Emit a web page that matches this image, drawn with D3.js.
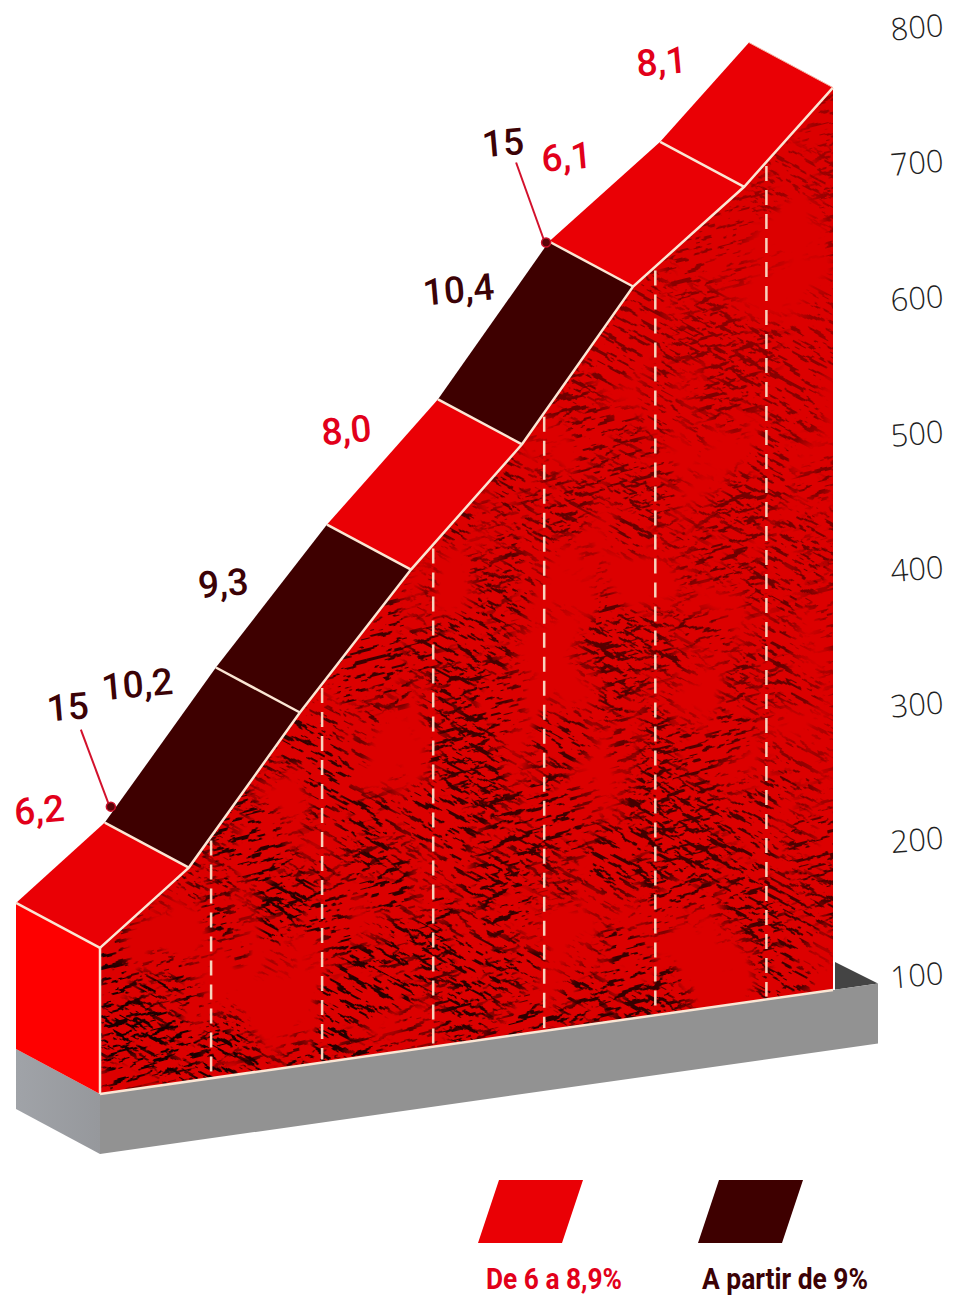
<!DOCTYPE html>
<html>
<head>
<meta charset="utf-8">
<script src="https://cdn.jsdelivr.net/npm/d3@7/dist/d3.min.js"></script>
<style>
html,body{margin:0;padding:0;background:#fff;}
svg{display:block;}
</style>
</head>
<body>
<div id="chart"></div>
<script>
// ---- data ----
const kmPoints   = [0, 0.8, 1.8, 2.8, 3.8, 4.8, 5.8, 6.6];
const altitudes  = [208, 258, 361, 455, 536, 641, 703, 767];
const gradients  = [6.2, 10.2, 9.3, 8.0, 10.4, 6.1, 8.1];
const kmMarks    = [1, 2, 3, 4, 5, 6];
const altTicks   = [100, 200, 300, 400, 500, 600, 700, 800];
const maxSlopes  = [{km: 0.8, alt: 258, value: 15}, {km: 4.8, alt: 641, value: 15}];
const legendText = ["De 6 a 8,9%", "A partir de 9%"];

// ---- layout ----
const W = 960, H = 1304;
const RED = "#ea0005", DARK = "#3e0000", CREAM = "#fbe6d4";
const depth = {x: -84, y: -45};
const labelOffsets = [[-20,-40],[-22,-48],[-47,0],[-35,-19],[-34,-18],[-37,-22],[-42,-18]];
const maxOffsets = [{dot:[6,-16], lab:[-36,-103], a:[-24,-93], b:[4,-18]}, {dot:[-3,1], lab:[-45,-86], a:[-33,-79], b:[-5,-1]}];

const x = d3.scaleLinear().domain([0, 6.6]).range([100, 833]);
const base = d3.scaleLinear().domain([0, 6.6]).range([1094, 990]);
const rise = d3.scaleLinear().domain([100, 800]).range([0, 947]);
const altAt = d3.scaleLinear().domain(kmPoints).range(altitudes);
const P = (km, alt) => [x(km), base(km) - rise(alt)];
const B = p => [p[0] + depth.x, p[1] + depth.y];
const poly = pts => "M" + pts.map(p => p.map(v => v.toFixed(1)).join(",")).join("L") + "Z";
const line = pts => "M" + pts.map(p => p.map(v => v.toFixed(1)).join(",")).join("L");
const fmt = v => (Number.isInteger(v) && v < 10 ? v.toFixed(1) : String(v)).replace(".", ",");
const gradColor = g => g >= 9 ? DARK : RED;

const svg = d3.select("#chart").append("svg").attr("width", W).attr("height", H).attr("viewBox", `0 0 ${W} ${H}`);

// ---- relief texture ----
const defs = svg.append("defs");
const grad = defs.append("linearGradient").attr("id","plinthL").attr("x1",0).attr("x2",1).attr("y1",0).attr("y2",0);
grad.append("stop").attr("offset",0).attr("stop-color","#a0a3a8");
grad.append("stop").attr("offset",1).attr("stop-color","#96989c");

function reliefFilter(id, seed, seedBig, freq){
  const f = defs.append("filter").attr("id",id).attr("x",0).attr("y",0).attr("width",1).attr("height",1)
    .attr("color-interpolation-filters","sRGB");
  f.append("feTurbulence").attr("type","fractalNoise").attr("baseFrequency",freq).attr("numOctaves",3).attr("seed",seed).attr("result","n");
  const dl = f.append("feDiffuseLighting").attr("in","n").attr("surfaceScale",11).attr("diffuseConstant",1.05).attr("lighting-color","#fff").attr("result","l");
  dl.append("feDistantLight").attr("azimuth",80).attr("elevation",58);
  f.append("feColorMatrix").attr("in","l").attr("type","matrix")
    .attr("values","0 0 0 0 0.09  0 0 0 0 0  0 0 0 0 0  -9 0 0 0 2.9").attr("result","mask");
  f.append("feTurbulence").attr("type","fractalNoise").attr("baseFrequency","0.012 0.009").attr("numOctaves",3).attr("seed",seedBig).attr("result","big");
  f.append("feColorMatrix").attr("in","big").attr("type","matrix")
    .attr("values","0 0 0 0 0  0 0 0 0 0  0 0 0 0 0  0 0 0 6 -2.5").attr("result","bigA");
  f.append("feComposite").attr("in","mask").attr("in2","bigA").attr("operator","in");
}
reliefFilter("reliefA", 11, 4, "0.05 0.12");
reliefFilter("reliefB", 23, 9, "0.05 0.13");

const density = defs.append("linearGradient").attr("id","densityGrad").attr("gradientUnits","userSpaceOnUse")
  .attr("x1",150).attr("y1",1050).attr("x2",800).attr("y2",250);
density.append("stop").attr("offset",0).attr("stop-color","#fff");
density.append("stop").attr("offset",0.45).attr("stop-color","#ccc");
density.append("stop").attr("offset",1).attr("stop-color","#555");
defs.append("mask").attr("id","density").attr("maskUnits","userSpaceOnUse").attr("x",0).attr("y",0).attr("width",W).attr("height",H)
  .append("rect").attr("width",W).attr("height",H).attr("fill","url(#densityGrad)");

// ---- plinth ----
const front = kmPoints.map((k,i) => P(k, altitudes[i]));
const f0 = front[0], fN = front[front.length-1];
const b0 = [x(0), base(0)], bN = [x(6.6), base(6.6)];
const plinthH = 60;
const cornerR = [878, base(6.6) - (878 - x(6.6)) * (base(0)-base(6.6))/(x(6.6)-x(0))];
const backL = B(b0);
svg.append("path").attr("d", poly([[bN[0], bN[1]-29], cornerR, bN])).attr("fill","#444444");
svg.append("path").attr("d", poly([backL, b0, [b0[0], b0[1]+plinthH], [backL[0], backL[1]+plinthH]])).attr("fill","url(#plinthL)");
svg.append("path").attr("d", poly([b0, cornerR, [cornerR[0], cornerR[1]+plinthH], [b0[0], b0[1]+plinthH]])).attr("fill","#929292");

// ---- left block ----
svg.append("path").attr("d", poly([B(f0), f0, b0, backL])).attr("fill","#fe0000");

// ---- front face ----
const facePath = poly([...front, bN, b0]);
svg.append("path").attr("d", facePath).attr("fill","#dc0000");
defs.append("clipPath").attr("id","faceClip").append("path").attr("d", facePath);
const tex = svg.append("g").attr("clip-path","url(#faceClip)").append("g").attr("mask","url(#density)");
tex.append("rect").attr("x",-300).attr("y",-300).attr("width",1600).attr("height",1900)
  .attr("transform","rotate(-14 480 650)").attr("filter","url(#reliefA)");
tex.append("rect").attr("x",-300).attr("y",-300).attr("width",1600).attr("height",1900)
  .attr("transform","rotate(28 480 650)").attr("filter","url(#reliefB)");

// ---- km dashes ----
svg.append("g").selectAll("path").data(kmMarks).join("path")
  .attr("d", k => line([[x(k), base(k)-rise(altAt(k))+4], [x(k), base(k)-3]]))
  .attr("fill","none").attr("stroke","#f8d3bd").attr("stroke-width",2.5).attr("stroke-dasharray","15 9");

// ---- slope strips ----
svg.append("g").selectAll("path").data(gradients).join("path")
  .attr("d", (g,i) => poly([front[i], front[i+1], B(front[i+1]), B(front[i])]))
  .attr("fill", g => gradColor(g));

// ---- edges ----
const edge = svg.append("g").attr("fill","none").attr("stroke",CREAM).attr("stroke-width",2.5);
edge.append("path").attr("d", line(front));
edge.append("path").attr("d", line([f0, b0]));
edge.append("path").attr("d", line([b0, bN]));
edge.selectAll("path.div").data(front.slice(0,-1)).join("path").attr("class","div")
  .attr("d", p => line([B(p), p]));
svg.append("path").attr("d", line([[bN[0]+1, bN[1]-29],[bN[0]+1, bN[1]]])).attr("stroke","#fff").attr("stroke-width",2);
svg.append("path").attr("d", line([B(fN), fN])).attr("stroke","#f6b7a8").attr("stroke-width",1);

// ---- gradient labels ----
svg.append("g").selectAll("text").data(gradients).join("text")
  .each(function(g,i){
    const a = B(front[i]), b = B(front[i+1]);
    const cx = (a[0]+b[0])/2 + labelOffsets[i][0], cy = (a[1]+b[1])/2 + labelOffsets[i][1];
    d3.select(this).attr("transform",`translate(${cx},${cy}) rotate(-5)`);
  })
  .attr("text-anchor","middle").attr("font-family","Roboto, sans-serif").attr("font-weight",500)
  .attr("font-size",37).attr("fill", g => g >= 9 ? "#3b0206" : "#e2001a")
  .text(g => fmt(g));

// ---- max-slope callouts ----
const callout = svg.append("g").selectAll("g").data(maxSlopes).join("g");
callout.each(function(d,i){
  const p = B(P(d.km, d.alt)), o = maxOffsets[i], g = d3.select(this);
  g.append("line").attr("x1",p[0]+o.a[0]).attr("y1",p[1]+o.a[1]).attr("x2",p[0]+o.b[0]).attr("y2",p[1]+o.b[1])
    .attr("stroke","#d3112c").attr("stroke-width",2);
  g.append("circle").attr("cx",p[0]+o.dot[0]).attr("cy",p[1]+o.dot[1]).attr("r",4.5).attr("fill","#5a0308").attr("stroke","#c9102a").attr("stroke-width",1.5);
  g.append("text").attr("transform",`translate(${p[0]+o.lab[0]},${p[1]+o.lab[1]}) rotate(-5)`)
    .attr("text-anchor","middle").attr("font-family","Roboto, sans-serif").attr("font-weight",500)
    .attr("font-size",37).attr("fill","#3b0206").text(d.value);
});

// ---- altitude axis ----
const yAxis = d3.scaleLinear().domain([100, 800]).range([975, 27]);
const ax = svg.append("g").attr("transform","translate(917,0)")
  .call(d3.axisRight(yAxis).tickValues(altTicks).tickSize(0).tickFormat(d3.format("d")));
ax.select(".domain").remove();
ax.selectAll("text").attr("x",0).attr("dy","0.35em").attr("text-anchor","middle")
  .attr("transform","rotate(-5)").attr("font-family","'Open Sans', sans-serif").attr("font-weight",300)
  .attr("font-size",31).attr("fill","#1f1f1f");

// ---- legend ----
const legend = svg.append("g").selectAll("g").data(legendText).join("g")
  .attr("transform",(d,i) => `translate(${i ? 698 : 478},1180)`);
legend.append("path").attr("d", poly([[21,0],[105,0],[84,63],[0,63]])).attr("fill",(d,i)=> i ? DARK : RED);
legend.append("text").text(d => d)
  .attr("x",(d,i)=> i ? 4 : 8).attr("y",109)
  .attr("font-family","Roboto, sans-serif").attr("font-weight",700).attr("font-size",30)
  .attr("textLength",(d,i)=> i ? 166 : 136).attr("lengthAdjust","spacingAndGlyphs")
  .attr("fill",(d,i)=> i ? "#3b0206" : "#e2001a");
</script>
</body>
</html>
